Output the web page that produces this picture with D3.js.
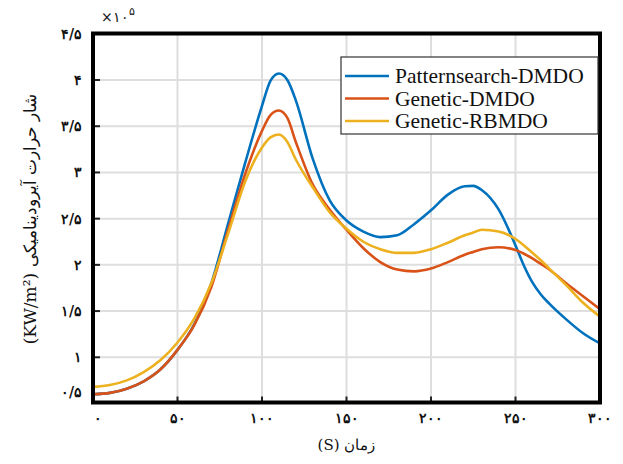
<!DOCTYPE html>
<html><head><meta charset="utf-8">
<script src="https://cdn.jsdelivr.net/npm/d3@7"></script>
<style>body{margin:0;background:#fff}svg{display:block}</style>
</head><body>
<svg id="c" width="623" height="464"></svg>
<script>
const xVals = [0,10,20,30,40,50,60,70,80,90,100,105,110,115,120,130,140,150,160,170,180,190,200,210,220,225,230,240,250,255,260,265,270,280,290,300];
const patternsearchDMDO = [0.60,0.615,0.66,0.74,0.87,1.08,1.36,1.80,2.45,3.10,3.72,3.99,4.07,4.00,3.78,3.15,2.70,2.48,2.36,2.30,2.32,2.44,2.59,2.76,2.85,2.855,2.81,2.60,2.21,1.99,1.81,1.68,1.58,1.41,1.26,1.15];
const geneticDMDO = [0.60,0.615,0.66,0.74,0.87,1.08,1.35,1.76,2.38,2.98,3.45,3.62,3.67,3.59,3.33,2.87,2.60,2.38,2.18,2.03,1.95,1.93,1.96,2.03,2.11,2.14,2.17,2.19,2.16,2.12,2.07,2.01,1.95,1.80,1.66,1.52];
const geneticRBMDO = [0.68,0.70,0.75,0.84,0.97,1.16,1.42,1.80,2.34,2.90,3.27,3.38,3.41,3.33,3.14,2.84,2.57,2.39,2.25,2.17,2.13,2.13,2.17,2.24,2.32,2.35,2.38,2.36,2.28,2.21,2.13,2.05,1.96,1.78,1.59,1.44];
const seriesNames = ["Patternsearch-DMDO","Genetic-DMDO","Genetic-RBMDO"];
const seriesColors = ["#0072BD","#D95319","#EDB120"];
const xTicks = [0,50,100,150,200,250,300];
const xTickLabels = ["۰","۵۰","۱۰۰","۱۵۰","۲۰۰","۲۵۰","۳۰۰"];
const yTicks = [0.5,1,1.5,2,2.5,3,3.5,4,4.5];
const yTickLabels = ["۰/۵","۱","۱/۵","۲","۲/۵","۳","۳/۵","۴","۴/۵"];
const xTitle = "زمان (S)";
const yTitle = "شار حرارت آیرودینامیکی (KW/m²)";

const svg = d3.select("#c");
const L=93, R=600, T=33.5, B=402.5;
const x = d3.scaleLinear().domain([0,300]).range([L,R]);
const y = d3.scaleLinear().domain([0.5,4.5]).range([403.5,33.8]);

// grid
const g = svg.append("g");
g.selectAll(".vg").data(xTicks.slice(1,-1)).enter().append("line")
  .attr("x1",d=>x(d)).attr("x2",d=>x(d)).attr("y1",T).attr("y2",B)
  .attr("stroke","#dedede").attr("stroke-width",2);
g.selectAll(".hg").data(yTicks.slice(1,-1)).enter().append("line")
  .attr("y1",d=>y(d)).attr("y2",d=>y(d)).attr("x1",L).attr("x2",R)
  .attr("stroke","#dedede").attr("stroke-width",2);

// lines
const all = [patternsearchDMDO, geneticDMDO, geneticRBMDO];
const line = d3.line().x((d,i)=>x(xVals[i])).y(d=>y(d)).curve(d3.curveMonotoneX);
svg.append("clipPath").attr("id","cp").append("rect").attr("x",L).attr("y",T).attr("width",R-L).attr("height",B-T);
all.forEach((s,k)=>{
  svg.append("path").attr("d",line(s)).attr("fill","none").attr("stroke",seriesColors[k])
    .attr("stroke-width",2.6).attr("stroke-linejoin","round").attr("clip-path","url(#cp)");
});

// ticks
svg.selectAll(".yt").data(yTicks.slice(1,-1)).enter().append("line")
  .attr("x1",L).attr("x2",L+7).attr("y1",d=>y(d)).attr("y2",d=>y(d)).attr("stroke","#222").attr("stroke-width",2);
svg.selectAll(".xt").data(xTicks.slice(1,-1)).enter().append("line")
  .attr("x1",d=>x(d)).attr("x2",d=>x(d)).attr("y1",B).attr("y2",B-6).attr("stroke","#222").attr("stroke-width",2);

// frame
svg.append("rect").attr("x",L).attr("y",T).attr("width",R-L).attr("height",B-T)
  .attr("fill","none").attr("stroke","#000").attr("stroke-width",4);

const font = "'DejaVu Serif','Liberation Serif',serif";
// y tick labels
svg.selectAll(".yl").data(yTicks).enter().append("text")
  .attr("x",82).attr("y",d=> d===0.5 ? 392 : y(d)).attr("dy","0.35em")
  .attr("text-anchor","end").attr("font-family",font).attr("font-size",14).attr("font-weight","bold").attr("fill","#111")
  .text((d,i)=>yTickLabels[i]);
// x tick labels
svg.selectAll(".xl").data(xTicks).enter().append("text")
  .attr("x",d=>x(d) + (d===0?5:0)).attr("y",418).attr("dy","0.35em")
  .attr("text-anchor","middle").attr("font-family",font).attr("font-size",14).attr("font-weight","bold").attr("fill","#111")
  .text((d,i)=>xTickLabels[i]);

// exponent
const ex = svg.append("text").attr("x",101).attr("y",22).attr("font-family",font).attr("font-size",14).attr("fill","#111");
ex.append("tspan").text("×۱۰");
ex.append("tspan").attr("dy",-7).attr("font-size",11).text("۵");

// titles
svg.append("text").attr("x",(L+R)/2).attr("y",445).attr("dy","0.35em").attr("text-anchor","middle")
  .attr("font-family",font).attr("font-size",15).attr("direction","rtl").attr("fill","#111").text(xTitle);
svg.append("text").attr("transform","translate(30,219) rotate(-90)").attr("text-anchor","middle").attr("dy","0.35em")
  .attr("font-family",font).attr("font-size",17).attr("direction","rtl").attr("unicode-bidi","embed").attr("fill","#111").text(yTitle);

// legend
const lg = svg.append("g");
lg.append("rect").attr("x",341).attr("y",57).attr("width",257).attr("height",77)
  .attr("fill","#fff").attr("stroke","#333").attr("stroke-width",1.2);
seriesNames.forEach((n,i)=>{
  const yy = 76 + i*22.5;
  lg.append("line").attr("x1",345).attr("x2",389).attr("y1",yy).attr("y2",yy).attr("stroke",seriesColors[i]).attr("stroke-width",2.6);
  lg.append("text").attr("x",395).attr("y",yy).attr("dy","0.33em").attr("font-family","'Liberation Serif',serif")
    .attr("font-size",21.5).attr("fill","#111").text(n);
});
</script>
</body></html>
